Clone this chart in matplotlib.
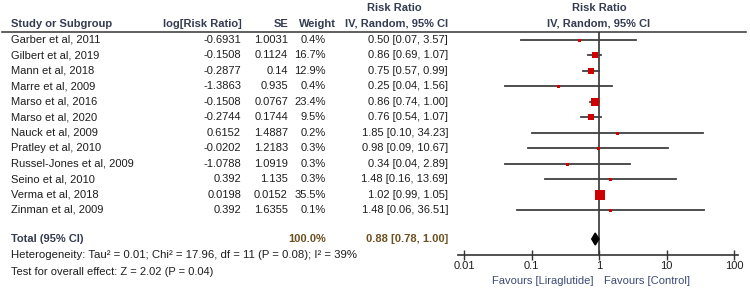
import numpy as np
import matplotlib
matplotlib.use('Agg')
from matplotlib import pyplot as plt

plt.rcParams['font.family'] = ['Liberation Sans', 'DejaVu Sans']

# Study data
studies = ['Garber et al, 2011', 'Gilbert et al, 2019', 'Mann et al, 2018',
           'Marre et al, 2009', 'Marso et al, 2016', 'Marso et al, 2020',
           'Nauck et al, 2009', 'Pratley et al, 2010', 'Russel-Jones et al, 2009',
           'Seino et al, 2010', 'Verma et al, 2018', 'Zinman et al, 2009']
logRR = ['-0.6931', '-0.1508', '-0.2877', '-1.3863', '-0.1508', '-0.2744',
         '0.6152', '-0.0202', '-1.0788', '0.392', '0.0198', '0.392']
se = ['1.0031', '0.1124', '0.14', '0.935', '0.0767', '0.1744',
      '1.4887', '1.2183', '1.0919', '1.135', '0.0152', '1.6355']
weight = [0.4, 16.7, 12.9, 0.4, 23.4, 9.5, 0.2, 0.3, 0.3, 0.3, 35.5, 0.1]
rr = [0.50, 0.86, 0.75, 0.25, 0.86, 0.76, 1.85, 0.98, 0.34, 1.48, 1.02, 1.48]
lower = [0.07, 0.69, 0.57, 0.04, 0.74, 0.54, 0.10, 0.09, 0.04, 0.16, 0.99, 0.06]
upper = [3.57, 1.07, 0.99, 1.56, 1.00, 1.07, 34.23, 10.67, 2.89, 13.69, 1.05, 36.51]

total_rr = 0.88
total_lower = 0.78
total_upper = 1.00

xticks = [0.01, 0.1, 1, 10, 100]
xticklabels = ['0.01', '0.1', '1', '10', '100']

W, H = 750, 294
headColor = '#343c52'
totColor = '#6b5020'
favColor = '#3c4a78'
txtColor = '#1e1e1e'
fs = 8

fig = plt.figure(figsize=(W / 100, H / 100), dpi=100)

# background axes in pixel coordinates for the table part
bg = fig.add_axes([0, 0, 1, 1])
bg.set_xlim(0, W)
bg.set_ylim(H, 0)
bg.axis('off')

def rowY(i):
    return 40 + 15.45 * i

# headers
bg.text(394, 8, 'Risk Ratio', ha='center', va='center', fontsize=fs, fontweight='bold', color=headColor)
bg.text(599, 8, 'Risk Ratio', ha='center', va='center', fontsize=fs, fontweight='bold', color=headColor)
hy = 24
bg.text(11, hy, 'Study or Subgroup', ha='left', va='center', fontsize=fs, fontweight='bold', color=headColor)
bg.text(242, hy, 'log[Risk Ratio]', ha='right', va='center', fontsize=fs, fontweight='bold', color=headColor)
bg.text(288, hy, 'SE', ha='right', va='center', fontsize=fs, fontweight='bold', color=headColor)
bg.text(336, hy, 'Weight', ha='right', va='center', fontsize=fs, fontweight='bold', color=headColor)
bg.text(448, hy, 'IV, Random, 95% CI', ha='right', va='center', fontsize=fs, fontweight='bold', color=headColor)
bg.text(599, hy, 'IV, Random, 95% CI', ha='center', va='center', fontsize=fs, fontweight='bold', color=headColor)
bg.plot([2, 746], [32, 32], color='#444444', lw=1.2)

# study rows
for i in range(len(studies)):
    y = rowY(i)
    bg.text(11, y, studies[i], ha='left', va='center', fontsize=fs, color=txtColor)
    bg.text(241, y, logRR[i], ha='right', va='center', fontsize=fs, color=txtColor)
    bg.text(288, y, se[i], ha='right', va='center', fontsize=fs, color=txtColor)
    bg.text(326, y, '%.1f%%' % weight[i], ha='right', va='center', fontsize=fs, color=txtColor)
    bg.text(448, y, '%.2f [%.2f, %.2f]' % (rr[i], lower[i], upper[i]),
            ha='right', va='center', fontsize=fs, color=txtColor)

# total row
ty = 239
bg.text(11, ty, 'Total (95% CI)', ha='left', va='center', fontsize=fs, fontweight='bold', color=headColor)
bg.text(326, ty, '%.1f%%' % sum(weight), ha='right', va='center', fontsize=fs, fontweight='bold', color=totColor)
bg.text(448, ty, '%.2f [%.2f, %.2f]' % (total_rr, total_lower, total_upper),
        ha='right', va='center', fontsize=fs, fontweight='bold', color=totColor)
bg.text(11, 255, 'Heterogeneity: Tau\u00b2 = 0.01; Chi\u00b2 = 17.96, df = 11 (P = 0.08); I\u00b2 = 39%',
        ha='left', va='center', fontsize=fs + 0.2, color=txtColor)
bg.text(11, 272, 'Test for overall effect: Z = 2.02 (P = 0.04)',
        ha='left', va='center', fontsize=fs, color=txtColor)

# forest plot axes
x0, x1 = 458, 738
y0, y1 = 32, 255
ax = fig.add_axes([x0 / W, 1 - y1 / H, (x1 - x0) / W, (y1 - y0) / H])
ax.set_xscale('log')
ax.set_xlim(10 ** ((x0 - 599) / 67.5), 10 ** ((x1 - 599) / 67.5))
ax.set_ylim(y1, y0)
ax.patch.set_alpha(0)
for s in ['top', 'right', 'left']:
    ax.spines[s].set_visible(False)
ax.spines['bottom'].set_color('#333333')
ax.spines['bottom'].set_linewidth(1.2)
ax.set_yticks([])
ax.set_xticks(xticks)
ax.set_xticklabels(xticklabels, fontsize=fs, color=txtColor)
ax.minorticks_off()
ax.tick_params(axis='x', direction='inout', length=7, width=1, color='#333333', pad=1)

ax.axvline(1, color='#333333', lw=1.2, zorder=1)

for i in range(len(studies)):
    y = rowY(i)
    ax.plot([lower[i], upper[i]], [y, y], color='#404040', lw=1.3, zorder=2)
    side = max(3.0, 1.68 * np.sqrt(weight[i])) * 0.72
    ax.plot(rr[i], y, marker='s', ms=side, color='#d00000', mec='#d00000', mew=0, zorder=3)

ax.fill([total_lower, total_rr, total_upper, total_rr], [ty, ty - 6, ty, ty + 6],
        color='black', zorder=3)

bg.text(594, 281, 'Favours [Liraglutide]', ha='right', va='center', fontsize=fs, color=favColor)
bg.text(604, 281, 'Favours [Control]', ha='left', va='center', fontsize=fs, color=favColor)

plt.savefig('out.png', dpi=100)
